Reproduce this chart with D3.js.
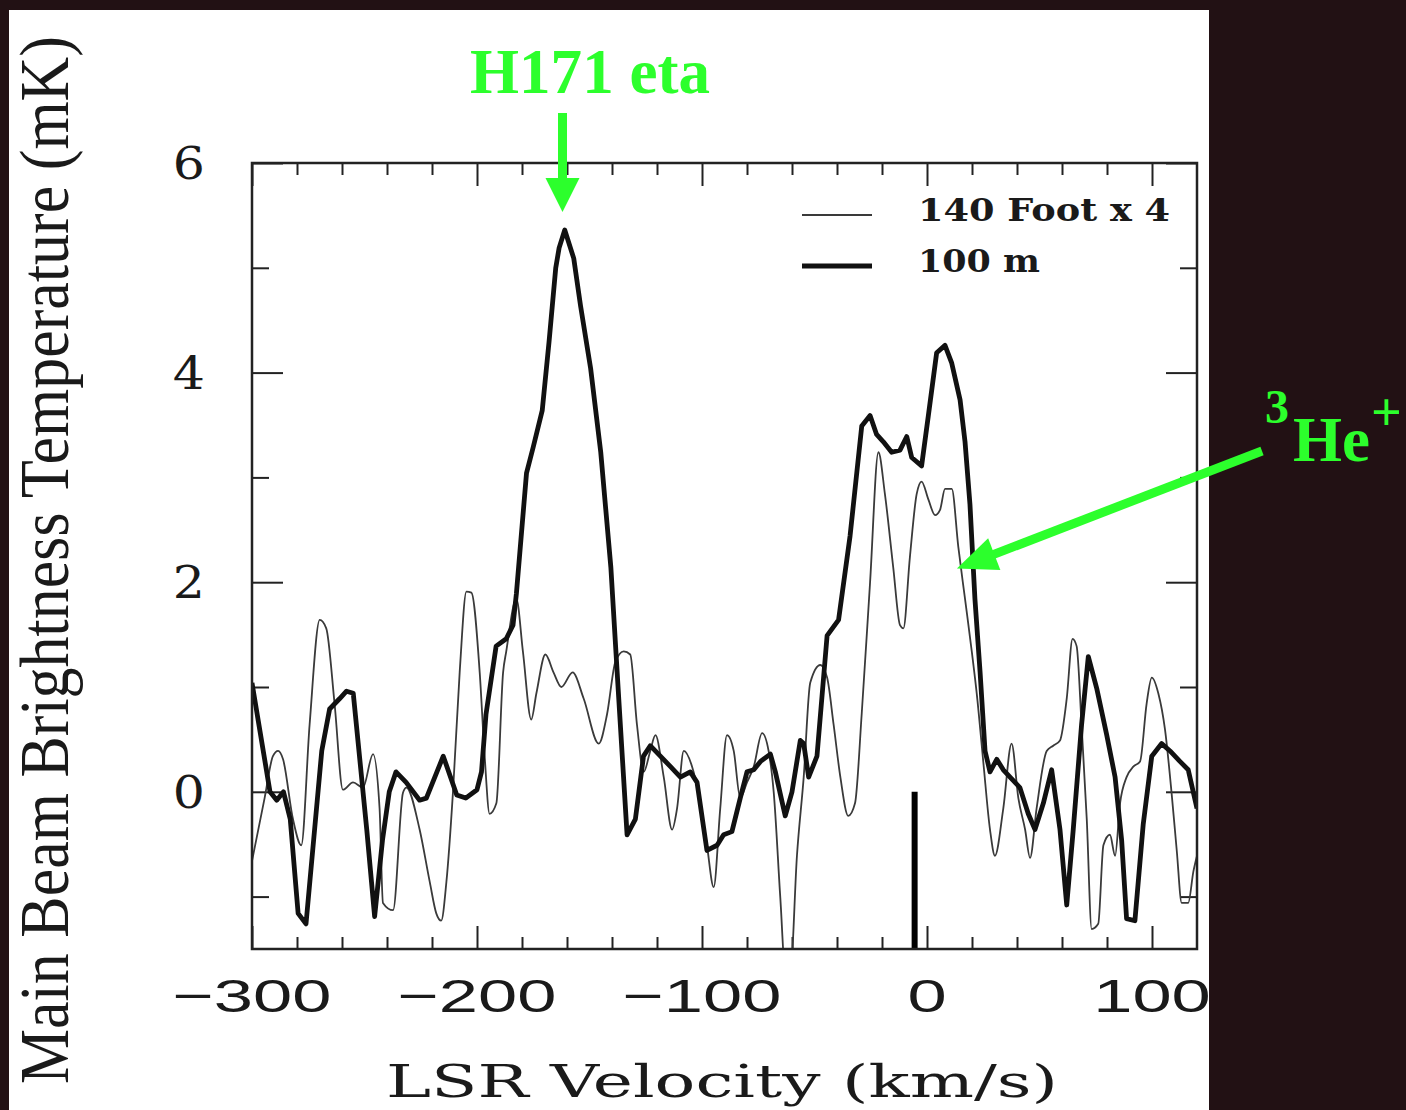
<!DOCTYPE html>
<html>
<head>
<meta charset="utf-8">
<script src="https://cdn.jsdelivr.net/npm/d3@7"></script>
<style>
  html, body { margin: 0; padding: 0; background: #221114; }
  svg { display: block; }
</style>
</head>
<body>
<div id="chart"></div>
<script>
// Data -------------------------------------------------------------------------------------------------------------
// 100 m telescope spectrum: [LSR velocity (km/s), Tmb (mK)]
const spectrum100m = [
  [-300, 1.04], [-292, 0.0], [-289, -0.08], [-286, 0.0], [-283, -0.26], [-279.5, -1.16], [-276, -1.26],
  [-269, 0.39], [-265.5, 0.79], [-261, 0.89], [-258, 0.96], [-255, 0.94], [-249, -0.36], [-245.5, -1.19],
  [-242, -0.46], [-239, 0.0], [-236, 0.19], [-231.5, 0.09], [-225.5, -0.08], [-222.5, -0.06], [-215, 0.34],
  [-209, -0.03], [-205, -0.06], [-200, 0.02], [-198, 0.19], [-196, 0.74], [-191.5, 1.39], [-187, 1.46],
  [-184, 1.59], [-182.5, 1.89], [-178, 3.04], [-175, 3.29], [-171, 3.64], [-168, 4.29], [-165, 5.0],
  [-163.5, 5.19], [-161, 5.36], [-157, 5.09], [-154, 4.64], [-149.5, 4.04], [-145, 3.24], [-140.5, 2.14],
  [-137, 0.89], [-133.3, -0.41], [-129.6, -0.26], [-126, 0.34], [-123, 0.44], [-118.5, 0.34], [-114, 0.24],
  [-109.6, 0.14], [-105.2, 0.19], [-102.2, 0.09], [-97.8, -0.56], [-93.3, -0.51], [-90.4, -0.41],
  [-86.7, -0.38], [-83, -0.06], [-80, 0.19], [-77, 0.21], [-74, 0.29], [-69.6, 0.36], [-67.4, 0.19],
  [-63, -0.23], [-60, 0.0], [-56.3, 0.49], [-54.8, 0.46], [-52.6, 0.14], [-48.9, 0.34], [-44.4, 1.49],
  [-39.3, 1.64], [-34.2, 2.44], [-29, 3.49], [-25.3, 3.59], [-22.4, 3.41], [-19.4, 3.34], [-15.7, 3.24],
  [-12, 3.26], [-9, 3.39], [-6.8, 3.19], [-2.4, 3.11], [0.6, 3.59], [4.3, 4.19], [8, 4.26], [11, 4.09],
  [14.7, 3.74], [16.9, 3.34], [19.1, 2.74], [21.3, 1.84], [23.6, 1.14], [25.8, 0.39], [28, 0.19],
  [31, 0.31], [33.9, 0.21], [36.9, 0.14], [41.3, 0.04], [45, -0.21], [48, -0.36], [51.7, -0.11],
  [55.4, 0.21], [59.1, -0.36], [62.1, -1.08], [65, -0.36], [68.7, 0.64], [71.7, 1.29], [75.4, 0.99],
  [79.9, 0.54], [83.6, 0.14], [86.5, -0.46], [88.7, -1.21], [92.4, -1.23], [96.1, -0.31], [99.9, 0.34],
  [104.3, 0.46], [108, 0.39], [112.4, 0.29], [116.1, 0.21], [120, -0.16]
];

// 140 Foot telescope spectrum (scaled x 4)
const spectrum140ft = [
  [-300, -0.66], [-294.4, -0.06], [-290.7, 0.34], [-288.4, 0.39], [-286.2, 0.31], [-281.8, -0.26],
  [-278.1, -0.51], [-274.4, 0.64], [-269.9, 1.64], [-267, 1.56], [-263.3, 0.84], [-259.6, 0.02],
  [-255.1, 0.09], [-250.7, 0.04], [-246.2, 0.36], [-243.3, -0.16], [-241.8, -1.06], [-237.3, -1.13],
  [-232.9, -0.01], [-231.4, 0.04], [-225.5, -0.36], [-221, -0.86], [-218.1, -1.16], [-215.9, -1.23],
  [-213.6, -0.86], [-210.7, -0.01], [-207.7, 1.14], [-204.7, 1.91], [-202.5, 1.9], [-198.8, 1.14],
  [-196.6, 0.34], [-194.4, -0.21], [-191.4, -0.11], [-188.4, 1.14], [-187, 1.34], [-182.5, 1.84],
  [-179.6, 1.34], [-175.9, 0.69], [-173.6, 0.94], [-169.6, 1.31], [-166, 1.14], [-162.5, 1.0],
  [-157.5, 1.14], [-152.6, 0.89], [-145.9, 0.46], [-142.2, 0.74], [-138.5, 1.24], [-134.8, 1.34],
  [-131.9, 1.31], [-128.9, 0.64], [-125.9, 0.19], [-123, 0.39], [-120.7, 0.54], [-117, 0.14],
  [-113.3, -0.36], [-111.1, -0.16], [-108.1, 0.39], [-104.4, 0.24], [-100.7, -0.11], [-97.8, -0.51],
  [-94.8, -0.91], [-91.9, -0.16], [-88.9, 0.54], [-85.9, 0.39], [-83, -0.06], [-80, 0.09], [-77, 0.24],
  [-73.3, 0.56], [-70.4, 0.39], [-68.1, -0.01], [-65.2, -1.01], [-63, -1.7], [-60.7, -1.7], [-57.8, -0.61],
  [-54.8, 0.14], [-51.9, 1.04], [-47.4, 1.21], [-44.4, 1.09], [-41.5, 0.64], [-38.5, 0.14], [-35, -0.23],
  [-32, -0.11], [-29, 0.75], [-25.3, 2.0], [-21.6, 3.24], [-18.7, 2.84], [-15, 2.14], [-12, 1.59],
  [-10.5, 1.56], [-7.6, 2.24], [-4.6, 2.84], [-2.4, 2.96], [0.6, 2.79], [3.6, 2.64], [5.8, 2.69],
  [8, 2.89], [11, 2.89], [13.9, 2.34], [16.9, 1.84], [19.9, 1.34], [22.1, 0.94], [25, 0.29], [28, -0.36],
  [30.2, -0.61], [33.9, -0.16], [37.6, 0.46], [40.6, -0.06], [43.6, -0.36], [45.8, -0.63], [48.7, -0.16],
  [53.2, 0.39], [56.1, 0.44], [59.1, 0.49], [62.1, 0.89], [64.7, 1.46], [66.5, 1.39], [68.7, 0.64],
  [71, -0.26], [73.2, -1.31], [76.1, -1.26], [78.4, -0.51], [81.3, -0.41], [83.6, -0.61], [85.8, -0.11],
  [88.7, 0.14], [91.7, 0.24], [94.7, 0.29], [97.6, 0.84], [99.9, 1.09], [102.8, 0.94], [105.8, 0.59],
  [108.7, -0.01], [111, -0.56], [113.2, -1.06], [116.1, -1.06], [118.4, -0.76], [120, -0.61]
];

const xTickLabels = [-300, -200, -100, 0, 100];
const yTickLabels = [0, 2, 4, 6];
const legendLabels = ["140 Foot x 4", "100 m"];
const markerVelocity = -5.5;   // vertical bar at the 3He+ rest velocity
const h171Velocity = -162;     // H171 eta arrow
const he3Point = [13.3, 2.13]; // tip of the 3He+ arrow

// Canvas -----------------------------------------------------------------------------------------------------------
const canvasWidth = 1406;
const canvasHeight = 1110;

const plotLeft = 252;
const plotRight = 1197;
const plotTop = 163;
const plotBottom = 949;

const green = "#2cff2c";

const svg = d3.select("#chart")
  .append("svg")
  .attr("width", canvasWidth)
  .attr("height", canvasHeight);

svg.append("rect")
  .attr("width", canvasWidth)
  .attr("height", canvasHeight)
  .attr("fill", "#221114");

svg.append("rect")
  .attr("x", 9)
  .attr("y", 10)
  .attr("width", 1200)
  .attr("height", canvasHeight - 10)
  .attr("fill", "#ffffff");

const xScale = d3.scaleLinear().domain([-300, 120]).range([plotLeft, plotRight]);
const yScale = d3.scaleLinear().domain([-1.5, 6]).range([plotBottom, plotTop]);

// Ticks (all inward, on every side) --------------------------------------------------------------------------------
const xMinor = d3.range(-280, 120, 20).filter(d => d % 100 != 0);
const yMinor = [-1, 1, 3, 5];

const tickStyle = function(g) {
  g.select(".domain").remove();
  g.selectAll("line").attr("stroke", "#222").attr("stroke-width", 2);
};

svg.append("g").attr("transform", "translate(0," + plotBottom + ")")
  .call(d3.axisBottom(xScale).tickValues(xTickLabels).tickSize(-23).tickFormat("")).call(tickStyle);
svg.append("g").attr("transform", "translate(0," + plotBottom + ")")
  .call(d3.axisBottom(xScale).tickValues(xMinor).tickSize(-12).tickFormat("")).call(tickStyle);
svg.append("g").attr("transform", "translate(0," + plotTop + ")")
  .call(d3.axisTop(xScale).tickValues(xTickLabels).tickSize(-23).tickFormat("")).call(tickStyle);
svg.append("g").attr("transform", "translate(0," + plotTop + ")")
  .call(d3.axisTop(xScale).tickValues(xMinor).tickSize(-12).tickFormat("")).call(tickStyle);

svg.append("g").attr("transform", "translate(" + plotLeft + ",0)")
  .call(d3.axisLeft(yScale).tickValues(yTickLabels).tickSize(-31).tickFormat("")).call(tickStyle);
svg.append("g").attr("transform", "translate(" + plotLeft + ",0)")
  .call(d3.axisLeft(yScale).tickValues(yMinor).tickSize(-17).tickFormat("")).call(tickStyle);
svg.append("g").attr("transform", "translate(" + plotRight + ",0)")
  .call(d3.axisRight(yScale).tickValues(yTickLabels).tickSize(-31).tickFormat("")).call(tickStyle);
svg.append("g").attr("transform", "translate(" + plotRight + ",0)")
  .call(d3.axisRight(yScale).tickValues(yMinor).tickSize(-17).tickFormat("")).call(tickStyle);

// Tick labels
svg.append("g").selectAll("text")
  .data(xTickLabels)
  .join("text")
  .attr("transform", d => "translate(" + xScale(d) + ",1012) scale(1.5,1)")
  .attr("text-anchor", "middle")
  .style("font-family", "'Liberation Sans', Arial, sans-serif")
  .style("font-size", "47px")
  .attr("fill", "#1a1a1a")
  .text(d => d < 0 ? "\u2212" + Math.abs(d) : d);

svg.append("g").selectAll("text")
  .data(yTickLabels)
  .join("text")
  .attr("transform", d => "translate(205," + (yScale(d) + 16) + ") scale(1.15,1)")
  .attr("text-anchor", "end")
  .style("font-family", "'DejaVu Serif', serif")
  .style("font-size", "44px")
  .attr("fill", "#1a1a1a")
  .text(d => d);

// Axis titles
svg.append("text")
  .attr("x", 722)
  .attr("y", 1097)
  .attr("text-anchor", "middle")
  .attr("textLength", 672)
  .attr("lengthAdjust", "spacingAndGlyphs")
  .style("font-family", "'DejaVu Serif', serif")
  .style("font-size", "44px")
  .attr("fill", "#1a1a1a")
  .text("LSR Velocity (km/s)");

// y title: stretched across (screen x) like the original scan
svg.append("text")
  .attr("transform", "translate(68,560) scale(1.12,1) rotate(-90)")
  .attr("text-anchor", "middle")
  .style("font-family", "'Liberation Serif', 'Times New Roman', serif")
  .style("font-size", "62px")
  .attr("fill", "#1a1a1a")
  .text("Main Beam Brightness Temperature (mK)");

// Spectra ----------------------------------------------------------------------------------------------------------
svg.append("clipPath").attr("id", "plot-clip")
  .append("rect")
  .attr("x", plotLeft)
  .attr("y", plotTop)
  .attr("width", plotRight - plotLeft)
  .attr("height", plotBottom - plotTop);

const chartGroup = svg.append("g").attr("clip-path", "url(#plot-clip)");

chartGroup.append("path")
  .datum(spectrum140ft)
  .attr("fill", "none")
  .attr("stroke", "#3a3a3a")
  .attr("stroke-width", 1.8)
  .attr("d", d3.line().x(d => xScale(d[0])).y(d => yScale(d[1])).curve(d3.curveMonotoneX));

chartGroup.append("path")
  .datum(spectrum100m)
  .attr("fill", "none")
  .attr("stroke", "#111")
  .attr("stroke-width", 4.8)
  .attr("stroke-linejoin", "round")
  .attr("d", d3.line().x(d => xScale(d[0])).y(d => yScale(d[1])));

chartGroup.append("line")
  .attr("x1", xScale(markerVelocity))
  .attr("x2", xScale(markerVelocity))
  .attr("y1", yScale(0))
  .attr("y2", yScale(-1.5))
  .attr("stroke", "#000")
  .attr("stroke-width", 6);

// Frame
svg.append("rect")
  .attr("x", plotLeft)
  .attr("y", plotTop)
  .attr("width", plotRight - plotLeft)
  .attr("height", plotBottom - plotTop)
  .attr("fill", "none")
  .attr("stroke", "#222")
  .attr("stroke-width", 2.5);

// Legend -----------------------------------------------------------------------------------------------------------
const legendWidths = [1.8, 4.8];
const legendLengths = [252, 122];
legendLabels.forEach(function(label, i) {
  const yPos = 215 + i * 51;
  svg.append("line")
    .attr("x1", 802).attr("x2", 872)
    .attr("y1", yPos).attr("y2", yPos)
    .attr("stroke", i == 0 ? "#3a3a3a" : "#111")
    .attr("stroke-width", legendWidths[i]);
  svg.append("text")
    .attr("x", 918)
    .attr("y", yPos + 6)
    .attr("textLength", legendLengths[i])
    .attr("lengthAdjust", "spacingAndGlyphs")
    .style("font-family", "'DejaVu Serif', serif")
    .style("font-weight", "bold")
    .style("font-size", "32px")
    .attr("fill", "#1a1a1a")
    .text(label);
});

// Annotations ------------------------------------------------------------------------------------------------------
const arrowX = xScale(h171Velocity);
svg.append("line")
  .attr("x1", arrowX).attr("x2", arrowX)
  .attr("y1", 113).attr("y2", 182)
  .attr("stroke", green)
  .attr("stroke-width", 9);
svg.append("path")
  .attr("d", "M" + (arrowX - 17) + ",178L" + (arrowX + 17) + ",178L" + arrowX + ",212Z")
  .attr("fill", green);

svg.append("text")
  .attr("x", 470)
  .attr("y", 93)
  .attr("textLength", 240)
  .attr("lengthAdjust", "spacingAndGlyphs")
  .style("font-family", "'Liberation Serif', 'Times New Roman', serif")
  .style("font-weight", "bold")
  .style("font-size", "64px")
  .attr("fill", green)
  .text("H171 eta");

// 3He+ arrow: tail outside the frame, tip on the 140 Foot line
const tip = [xScale(he3Point[0]), yScale(he3Point[1])];
const tail = [1262, 451];
const len = Math.hypot(tail[0] - tip[0], tail[1] - tip[1]);
const ux = (tail[0] - tip[0]) / len;
const uy = (tail[1] - tip[1]) / len;
const headLen = 40;
const headHalf = 17;
const base = [tip[0] + ux * headLen, tip[1] + uy * headLen];

svg.append("line")
  .attr("x1", tail[0]).attr("y1", tail[1])
  .attr("x2", base[0] - ux * 4).attr("y2", base[1] - uy * 4)
  .attr("stroke", green)
  .attr("stroke-width", 9);
svg.append("path")
  .attr("d", "M" + tip[0] + "," + tip[1] +
    "L" + (base[0] - uy * headHalf) + "," + (base[1] + ux * headHalf) +
    "L" + (base[0] + uy * headHalf) + "," + (base[1] - ux * headHalf) + "Z")
  .attr("fill", green);

const heLabel = svg.append("g")
  .style("font-family", "'Liberation Serif', 'Times New Roman', serif")
  .style("font-weight", "bold")
  .attr("fill", green);
heLabel.append("text").attr("x", 1265).attr("y", 423).style("font-size", "48px").text("3");
heLabel.append("text").attr("x", 1293).attr("y", 461).style("font-size", "63px").text("He");
heLabel.append("text").attr("x", 1371).attr("y", 430).style("font-size", "54px").text("+");
</script>
</body>
</html>
